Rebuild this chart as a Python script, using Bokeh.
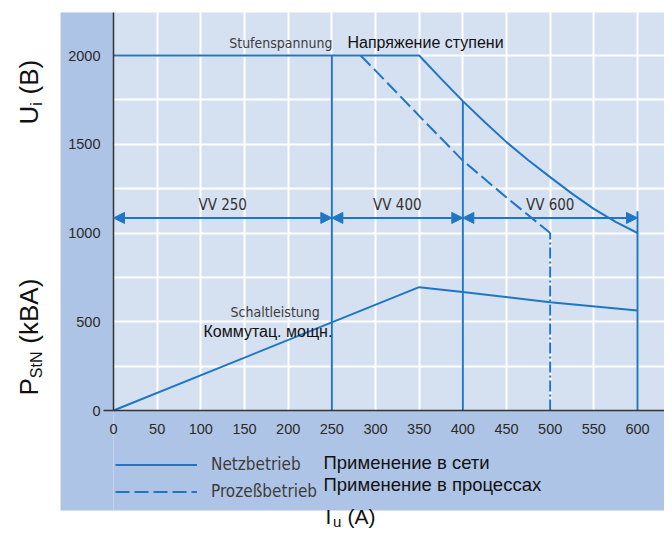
import math
from bokeh.plotting import figure
from bokeh.models import (Range1d, FixedTicker, LinearAxis, Label, Arrow, NormalHead,
                          Legend, LegendItem, ColumnDataSource)
from bokeh.embed import file_html
from bokeh.resources import INLINE
from bokeh.core.properties import value

# ---------------- data ----------------
x_ticks = [0, 50, 100, 150, 200, 250, 300, 350, 400, 450, 500, 550, 600]
y_ticks = [0, 500, 1000, 1500, 2000]
y_grid_ticks = [250, 500, 750, 1000, 1250, 1500, 1750, 2000]

net_I = [0, 350, 375, 400, 425, 450, 475, 500, 525, 550, 575, 600]
net_U = [2000, 2000, 1870, 1743, 1625, 1512, 1410, 1315, 1222, 1136, 1063, 1000]

proc_I = [283, 300, 350, 400, 450, 500]
proc_U = [2000, 1915, 1660, 1408, 1200, 1000]

power_I = [0, 350, 400, 500, 600]
power_P = [0, 695, 667, 610, 563]

limit_I = [250, 400, 600]
limit_top = [2000, 1743, 1123]
proc_limit_I = [500]
proc_limit_top = [1000]

vv_start = [0, 250, 400]
vv_end = [250, 400, 600]
vv_labels = ["VV 250", "VV 400", "VV 600"]
vv_arrow_U = 1085
vv_label_U = 1155

# ---------------- layout helpers (pixel geometry) ----------------
W, H = 664, 528
X0_PX, PX_X = 113, 524 / 600          # px of I=0, px per A
Y0_PX, PX_Y = 410, 355 / 2000         # px of U=0, px per unit

def dx(px):
    return (px - X0_PX) / PX_X

def dy(py):
    return (Y0_PX - py) / PX_Y

x_lo, x_hi = dx(0), dx(W)
y_lo, y_hi = dy(H), dy(0)
panel_left, panel_bottom, panel_top = dx(60), dy(510), dy(12)

BLUE = "#1f76c6"
DARK = "#aec4e6"
LIGHT = "#d5e0f1"
COND = "Liberation Sans Narrow, DejaVu Sans Condensed, Liberation Sans"
SANS = "Liberation Sans"

p = figure(width=W, height=H, x_range=Range1d(x_lo, x_hi), y_range=Range1d(y_lo, y_hi),
           output_backend="svg", toolbar_location=None, min_border=0,
           background_fill_color="white", border_fill_color="white",
           outline_line_color=None)

# panels
p.quad(left=[0], right=[x_hi], bottom=[0], top=[panel_top],
       fill_color=LIGHT, line_color=None, level="image")
p.quad(left=[panel_left, 0], right=[0, x_hi], bottom=[panel_bottom, panel_bottom],
       top=[panel_top, 0], fill_color=DARK, line_color=None)

# grid
p.xgrid.ticker = FixedTicker(ticks=x_ticks[1:])
p.ygrid.ticker = FixedTicker(ticks=y_grid_ticks)
for g in (p.xgrid[0], p.ygrid[0]):
    g.grid_line_color = "white"
    g.grid_line_width = 2

# axes
xa = p.xaxis[0]
xa.fixed_location = 0
xa.ticker = FixedTicker(ticks=x_ticks)
xa.bounds = (0, x_hi)
ya = p.yaxis[0]
ya.fixed_location = 0
ya.ticker = FixedTicker(ticks=y_ticks)
ya.bounds = (0, panel_top)
for a in (xa, ya):
    a.axis_line_color = "#333333"
    a.axis_line_width = 1.5
    a.major_tick_out = 0
    a.major_tick_in = 0
    a.minor_tick_out = 0
    a.minor_tick_in = 0
    a.major_label_text_font = SANS
    a.major_label_text_font_size = "14.5px"
    a.major_label_text_color = "#2a2a2a"
xa.major_label_standoff = 13
ya.major_label_standoff = 13

zero_axis = LinearAxis(ticker=FixedTicker(ticks=[0]), fixed_location=0,
                       axis_line_color=None, major_tick_out=10, major_tick_in=0,
                       major_tick_line_color="#333333", major_tick_line_width=1.5,
                       minor_tick_out=0, minor_tick_in=0,
                       major_label_text_alpha=0)
p.add_layout(zero_axis, "left")

# data lines
r_net = p.line(net_I, net_U, line_color=BLUE, line_width=2)
r_proc = p.line(proc_I, proc_U, line_color=BLUE, line_width=2, line_dash="14 5")
p.line(power_I, power_P, line_color=BLUE, line_width=2)
p.segment(x0=limit_I, y0=[0] * len(limit_I), x1=limit_I, y1=limit_top,
          line_color=BLUE, line_width=2)
p.segment(x0=proc_limit_I, y0=[0], x1=proc_limit_I, y1=proc_limit_top,
          line_color=BLUE, line_width=2, line_dash="11 3 2 3")

# range arrows
arr_src = ColumnDataSource(dict(x0=vv_start, x1=vv_end,
                                y=[vv_arrow_U] * len(vv_start)))
p.add_layout(Arrow(start=NormalHead(size=11, fill_color=BLUE, line_color=BLUE),
                   end=NormalHead(size=11, fill_color=BLUE, line_color=BLUE),
                   x_start="x0", y_start="y", x_end="x1", y_end="y", source=arr_src,
                   line_color=BLUE, line_width=2))
vv_mid = [(a + b) / 2 for a, b in zip(vv_start, vv_end)]
p.text(x=vv_mid, y=[vv_label_U] * 3, text=vv_labels, text_align="center",
       text_baseline="middle", text_font=value(COND), text_font_size="15px",
       text_color="#333333")

def lab(px, py, text, font, size, color="#111111", align="left", angle=0.0):
    p.add_layout(Label(x=dx(px), y=dy(py), text=text, text_font=font,
                       text_font_size=f"{size}px", text_color=color, text_align=align,
                       text_baseline="middle", angle=angle))

# annotations
lab(332, 42, "Stufenspannung", COND, 14, "#3c3c3c", align="right")
lab(347, 42, "Напряжение ступени", SANS, 16)
lab(230, 311, "Schaltleistung", COND, 14, "#3c3c3c")
lab(203, 331, "Коммутац. мощн.", SANS, 16)

# legend
legend = Legend(items=[LegendItem(label="Netzbetrieb", renderers=[r_net]),
                       LegendItem(label="Prozeßbetrieb", renderers=[r_proc])],
                location=(115, H - 504.5), orientation="vertical",
                glyph_width=82, glyph_height=27, label_height=27, label_standoff=14,
                spacing=0, padding=0, margin=0, background_fill_alpha=0,
                border_line_alpha=0, label_text_font=COND, label_text_font_size="17px",
                label_text_color="#3c3c3c")
p.add_layout(legend)
lab(323, 462, "Применение в сети", SANS, 18.5)
lab(323, 484, "Применение в процессах", SANS, 18.5)

# axis titles (rotated, with subscripts); positions are text mid-lines
UP = math.pi / 2
BIG, SUB = 26, 16
lab(28, 124, "U", SANS, BIG, angle=UP)
lab(35.5, 124 - 0.722 * BIG, "i", SANS, SUB, angle=UP)
lab(28, 124 - 0.722 * BIG - 0.222 * SUB - 0.3 * BIG, "(B)", SANS, BIG, angle=UP)

lab(28, 395, "P", SANS, BIG, angle=UP)
lab(36, 395 - 0.667 * BIG, "StN", SANS, SUB, angle=UP)
lab(28, 395 - 0.667 * BIG - 1.667 * SUB - 0.3 * BIG, "(kBA)", SANS, BIG, angle=UP)

lab(325, 516, "I", SANS, 21)
lab(332.5, 520.5, "u", SANS, 15)
lab(347, 516, "(A)", SANS, 21)

open("out.html", "w").write(file_html(p, INLINE))
